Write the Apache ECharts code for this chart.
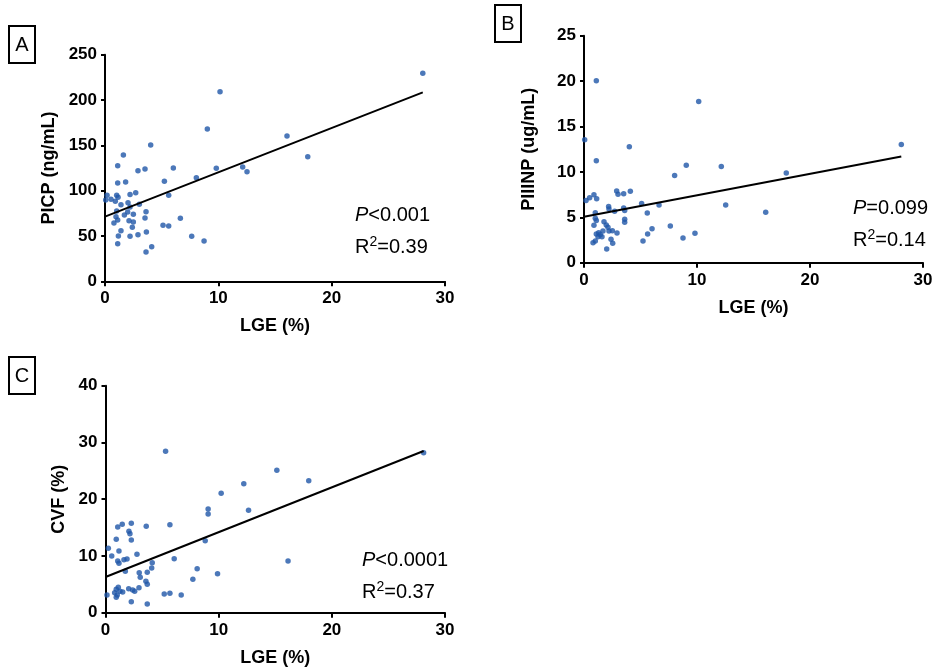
<!DOCTYPE html>
<html><head><meta charset="utf-8">
<script src="https://cdn.jsdelivr.net/npm/echarts@6/dist/echarts.min.js"></script>
<style>html,body{margin:0;padding:0;background:#fff}#c{width:939px;height:672px}</style>
</head><body><div id="c"></div>
<script>
// Panel A: LGE (%) vs PICP (ng/mL)
var aLGE = [10.15,9.03,16.06,4.03,1.62,1.12,2.91,3.53,6.03,9.82,12.15,12.53,8.06,5.24,1.82,1.12,0.18,0.06,0.53,1.03,1.15,0.91,2.21,2.71,5.62,1.41,2.03,3.03,2.21,1.03,2.0,3.62,1.71,2.5,0.97,1.12,2.12,2.5,3.53,6.65,0.79,2.41,5.12,5.62,1.41,3.65,1.18,2.21,2.91,7.65,8.74,1.12,4.12,3.62,17.89,28.04];
var aPICP = [209.2,168,160.3,150.3,139.3,127.5,122,123.9,125,124.6,126,120.9,114.3,110.3,109.5,108.4,94.8,89.7,90.4,94.8,92.6,88.2,95.9,97.7,94.8,84.5,86.7,84.9,81.9,77.5,76.4,76.8,73.1,73.9,71.3,67.6,66.9,65.4,69.8,69.5,64.3,59.6,61.8,61.0,55.8,54.4,50,49.6,51.4,49.6,44.4,41.5,38.2,32.3,137.4,229.4];
var aFitX = [0, 28.04];
var aFitY = [71.3, 208.4];

// Panel B: LGE (%) vs PIIINP (ug/mL)
var bLGE = [1.09,10.15,0.06,4.01,1.09,9.05,12.15,8.02,12.54,0.18,0.5,0.88,1.12,2.89,3.01,3.51,4.1,1.0,2.18,2.21,2.71,3.51,3.6,5.1,5.6,6.64,1.0,1.09,0.88,1.77,1.97,2.12,2.21,2.51,2.92,1.68,1.3,1.09,1.44,1.24,1.59,3.6,3.6,2.39,2.54,1.0,0.8,2.01,5.63,6.02,5.22,7.64,8.76,9.82,17.9,16.08,28.08];
var bPIIINP = [20.04,17.76,13.53,12.76,11.22,10.74,10.59,9.6,6.36,6.84,7.14,7.47,7.03,7.91,7.54,7.58,7.87,5.51,6.18,5.92,5.67,6.03,5.74,6.51,5.48,6.36,4.9,4.64,4.12,4.52,4.16,3.9,3.5,3.53,3.28,3.5,3.31,3.17,3.09,2.87,2.87,4.79,4.46,2.58,2.14,2.39,2.21,1.51,3.17,3.75,2.39,4.05,2.72,3.24,9.89,5.56,13.02];
var bFitX = [0, 28.08];
var bFitY = [5.07, 11.69];

// Panel C: LGE (%) vs CVF (%)
var cLGE = [5.31,15.14,12.22,10.22,9.07,9.07,12.64,1.08,1.48,2.28,3.6,5.69,2.07,2.16,0.95,2.28,0.25,1.19,0.55,2.78,8.81,1.08,1.19,1.63,1.9,4.13,6.07,4.08,1.75,2.98,3.69,3.07,8.1,7.72,9.9,16.13,3.57,3.69,2.96,2.05,2.4,2.58,1.13,0.95,1.28,1.52,0.81,1.04,0.95,0.13,5.19,5.69,6.69,2.28,3.69,17.96,28.11];
var cCVF = [28.44,25.09,22.73,21.04,18.27,17.39,18.04,15.1,15.58,15.75,15.22,15.51,14.34,13.92,12.93,12.81,11.35,10.87,9.99,10.29,12.69,9.11,8.7,9.34,9.46,8.81,9.52,7.88,7.29,7.05,7.12,6.24,7.75,5.88,6.87,9.11,5.53,5.0,4.41,4.23,4.0,3.77,4.48,4.12,3.77,3.65,3.52,3.12,2.71,3.12,3.3,3.41,3.12,1.94,1.53,23.26,28.2];
var cFitX = [0, 28.11];
var cFitY = [6.29, 28.49];

var xTicks = [0, 10, 20, 30];
var panelLetters = ['A', 'B', 'C'];
var yNames = ['PICP (ng/mL)', 'PIIINP (ug/mL)', 'CVF (%)'];
var xName = 'LGE (%)';
var pTexts = ['<0.001', '=0.099', '<0.0001'];
var r2Texts = ['=0.39', '=0.14', '=0.37'];

function zip(a, b) { return a.map(function (v, i) { return [v, b[i]]; }); }

var FONT = 'Liberation Sans, Arial, sans-serif';
var DOT = '#1f56a8';

function xAxis(gi) {
  return {
    gridIndex: gi, type: 'value', min: 0, max: 30, interval: 10,
    name: xName, nameLocation: 'middle', nameGap: 36,
    nameTextStyle: { fontFamily: FONT, fontWeight: 'bold', fontSize: 18, color: '#000' },
    axisLine: { onZero: false, lineStyle: { color: '#000', width: 2 } },
    axisTick: { show: true, length: 5, lineStyle: { color: '#000', width: 2 } },
    axisLabel: { margin: 9, fontFamily: FONT, fontWeight: 'bold', fontSize: 17, color: '#000' },
    splitLine: { show: false }
  };
}
function yAxis(gi, max, interval, gap) {
  return {
    gridIndex: gi, type: 'value', min: 0, max: max, interval: interval,
    name: yNames[gi], nameLocation: 'middle', nameGap: gap, nameRotate: 90,
    nameTextStyle: { fontFamily: FONT, fontWeight: 'bold', fontSize: 18, color: '#000' },
    axisLine: { onZero: false, lineStyle: { color: '#000', width: 2 } },
    axisTick: { show: true, length: 4, lineStyle: { color: '#000', width: 2 } },
    axisLabel: { margin: 8, fontFamily: FONT, fontWeight: 'bold', fontSize: 17, color: '#000' },
    splitLine: { show: false }
  };
}
function scatter(gi, data) {
  return { type: 'scatter', xAxisIndex: gi, yAxisIndex: gi, data: data, symbolSize: 5.5,
    itemStyle: { color: DOT }, z: 3 };
}
function fit(gi, xs, ys) {
  return { type: 'line', xAxisIndex: gi, yAxisIndex: gi, data: zip(xs, ys), symbol: 'none',
    lineStyle: { color: '#000', width: 2 }, z: 4 };
}
function statText(i, left, top) {
  return {
    type: 'text', left: left, top: top,
    style: {
      text: '{i|P}{n|' + pTexts[i] + '}\n{n|R}{s|2}{n|' + r2Texts[i] + '}',
      font: '20px ' + FONT, fill: '#000', lineHeight: 32,
      rich: {
        i: { fontFamily: FONT, fontSize: 20, fontStyle: 'italic', lineHeight: 32 },
        n: { fontFamily: FONT, fontSize: 20, lineHeight: 32 },
        s: { fontFamily: FONT, fontSize: 14, verticalAlign: 'middle', padding: [0, 0, 9, 0] }
      }
    }
  };
}
function box(i, x, y) {
  return {
    type: 'group', left: x, top: y,
    children: [
      { type: 'rect', shape: { x: 0, y: 0, width: 26, height: 37 }, style: { fill: '#fff', stroke: '#000', lineWidth: 2 } },
      { type: 'text', x: 13, y: 19, style: { text: panelLetters[i], font: '20px ' + FONT, fill: '#000', align: 'center', verticalAlign: 'middle' } }
    ]
  };
}

var chart = echarts.init(document.getElementById('c'), null, { renderer: 'canvas' });
chart.setOption({
  animation: false,
  backgroundColor: '#fff',
  grid: [
    { left: 105, top: 54.7, right: 494, bottom: 390.7 },
    { left: 584, top: 35.7, right: 16, bottom: 409.3 },
    { left: 105.5, top: 385.7, right: 494, bottom: 59.3 }
  ],
  xAxis: [xAxis(0), xAxis(1), xAxis(2)],
  yAxis: [yAxis(0, 250, 50, 47), yAxis(1, 25, 5, 46), yAxis(2, 40, 10, 37)],
  series: [
    scatter(0, zip(aLGE, aPICP)), fit(0, aFitX, aFitY),
    scatter(1, zip(bLGE, bPIIINP)), fit(1, bFitX, bFitY),
    scatter(2, zip(cLGE, cCVF)), fit(2, cFitX, cFitY)
  ],
  graphic: [
    box(0, 8, 25), box(1, 494, 4), box(2, 8, 356),
    statText(0, 355, 199), statText(1, 853, 192), statText(2, 362, 544)
  ]
});
</script></body></html>
